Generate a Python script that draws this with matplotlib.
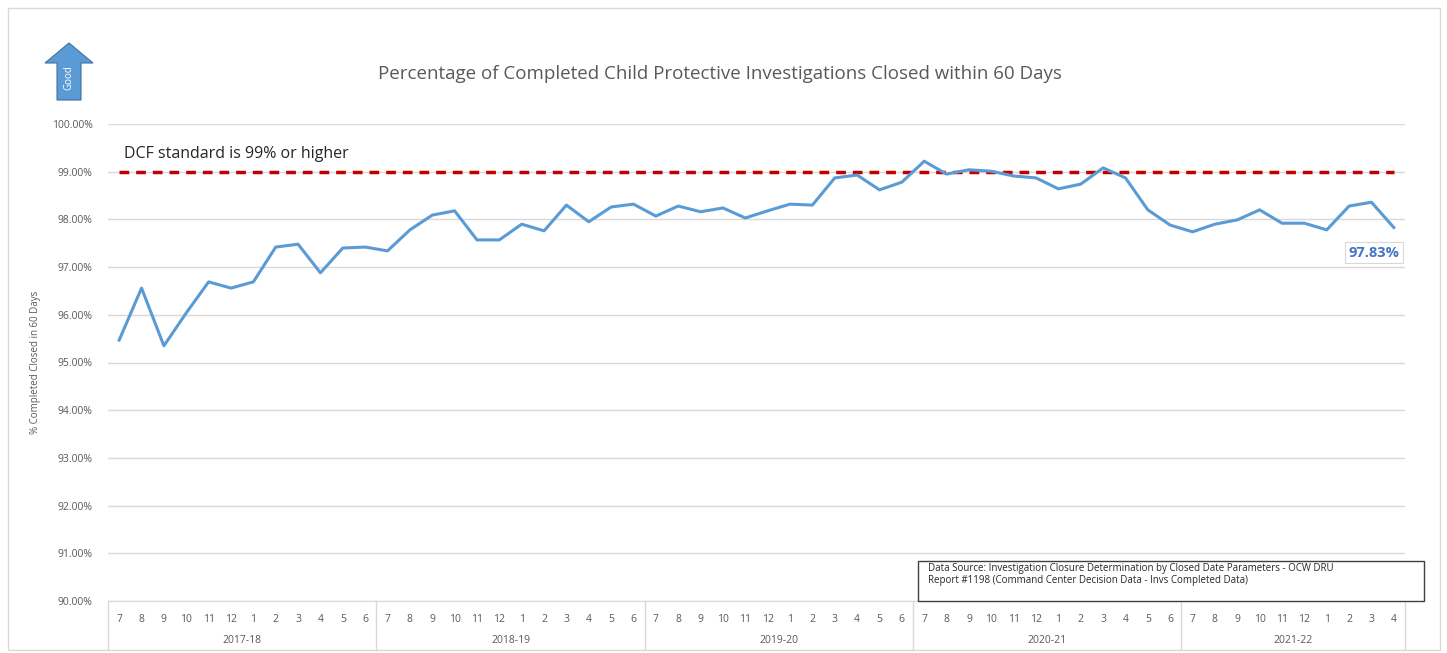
import matplotlib
matplotlib.use("Agg")
import matplotlib.pyplot as plt
from matplotlib.patches import Rectangle, FancyArrow
from matplotlib.transforms import blended_transform_factory

# ---- data ----
fiscal_years = ["2017-18", "2018-19", "2019-20", "2020-21", "2021-22"]
months_full = ["7", "8", "9", "10", "11", "12", "1", "2", "3", "4", "5", "6"]
months_last = ["7", "8", "9", "10", "11", "12", "1", "2", "3", "4"]
pct_closed = [
    95.47, 96.56, 95.35, 96.04, 96.69, 96.56, 96.69, 97.42, 97.48, 96.88, 97.40, 97.42,
    97.34, 97.78, 98.09, 98.18, 97.57, 97.57, 97.90, 97.76, 98.30, 97.95, 98.26, 98.32,
    98.07, 98.28, 98.16, 98.24, 98.03, 98.18, 98.32, 98.30, 98.87, 98.93, 98.62, 98.78,
    99.22, 98.95, 99.04, 99.01, 98.91, 98.87, 98.64, 98.74, 99.08, 98.87, 98.20, 97.88,
    97.74, 97.90, 97.99, 98.20, 97.92, 97.92, 97.78, 98.28, 98.36, 97.83,
]
standard = 99.0
y_ticks = [90, 91, 92, 93, 94, 95, 96, 97, 98, 99, 100]

month_labels = months_full * 4 + months_last
n = len(pct_closed)
x = list(range(n))

W, H = 1447, 653
fig = plt.figure(figsize=(W / 100, H / 100), dpi=100)
plt.rcParams['font.family'] = ['Open Sans', 'DejaVu Sans']

ax = fig.add_axes([108 / W, 1 - 601 / H, (1405 - 108) / W, (601 - 124) / H])
ax.set_xlim(-0.5, n - 0.5)
ax.set_ylim(90, 100)
ax.set_yticks(y_ticks)
ax.set_yticklabels([f"{v:.2f}%" for v in y_ticks], fontsize=7.5, color="#595959")
ax.tick_params(axis="y", length=0, pad=11)
ax.set_xticks([])
ax.grid(axis="y", color="#D9D9D9", lw=1)
ax.set_axisbelow(True)
for s in ["top", "right", "left"]:
    ax.spines[s].set_visible(False)
ax.spines["bottom"].set_color("#D9D9D9")

# standard line
ax.plot(x, [standard] * n, color="#C00000", lw=2.5, dashes=(2.8, 2.0), zorder=3)
# main series
ax.plot(x, pct_closed, color="#5B9BD5", lw=2.2, zorder=4)

# data label for last point
ax.annotate(f"{pct_closed[-1]:.2f}%", xy=(x[-1], pct_closed[-1]), xytext=(-14.5, -18),
            textcoords="offset points", ha="center", va="center", fontsize=10.5,
            fontweight="bold", color="#4472C4",
            bbox=dict(boxstyle="square,pad=0.25", fc="white", ec="#D9D9D9", lw=0.8),
            zorder=5)

ax.text(x[0] + 0.2, 99.37, "DCF standard is 99% or higher", fontsize=11.5,
        color="#262626", ha="left", va="center")

ax.set_ylabel("% Completed Closed in 60 Days", fontsize=7, color="#595959", labelpad=8)

# multi-level category axis
trans = blended_transform_factory(ax.transData, ax.transAxes)
for i, lab in enumerate(month_labels):
    ax.text(i, -0.038, lab, transform=trans, ha="center", va="center",
            fontsize=7.5, color="#595959", clip_on=False)
start = 0
for fy in fiscal_years:
    cnt = 12 if fy != fiscal_years[-1] else len(months_last)
    ax.text(start + (cnt - 1) / 2, -0.082, fy, transform=trans, ha="center",
            va="center", fontsize=7.5, color="#595959", clip_on=False)
    ax.plot([start - 0.5, start - 0.5], [0, -0.103], transform=trans, color="#D9D9D9",
            lw=1, clip_on=False)
    start += cnt
ax.plot([n - 0.5, n - 0.5], [0, -0.103], transform=trans, color="#D9D9D9", lw=1, clip_on=False)

# title
fig.text(720 / W, 1 - 74 / H,
         "Percentage of Completed Child Protective Investigations Closed within 60 Days",
         ha="center", va="center", fontsize=13.5, color="#595959")

# outer border
fig.patches.append(Rectangle((8 / W, 1 - 650 / H), (1440 - 8) / W, (650 - 8) / H,
                             transform=fig.transFigure, fill=False, ec="#D9D9D9", lw=1))

# "Good" arrow
fig.patches.append(FancyArrow(69 / W, 1 - 100 / H, 0, 57 / H, width=24 / W,
                              head_width=48 / W, head_length=20 / H,
                              length_includes_head=True, transform=fig.transFigure,
                              fc="#5B9BD5", ec="#41719C", lw=0.8))
fig.text(69 / W, 1 - 78 / H, "Good", rotation=90, ha="center", va="center",
         fontsize=7, color="white")

# data source box
fig.patches.append(Rectangle((918 / W, 1 - 601 / H), (1424 - 918) / W, (601 - 561) / H,
                             transform=fig.transFigure, fc="white", ec="#404040", lw=1))
fig.text(928 / W, 1 - 568 / H,
         "Data Source: Investigation Closure Determination by Closed Date Parameters - OCW DRU",
         ha="left", va="center", fontsize=7, color="#262626")
fig.text(928 / W, 1 - 581 / H,
         "Report #1198 (Command Center Decision Data - Invs Completed Data)",
         ha="left", va="center", fontsize=7, color="#262626")

fig.savefig("out.png", dpi=100)
